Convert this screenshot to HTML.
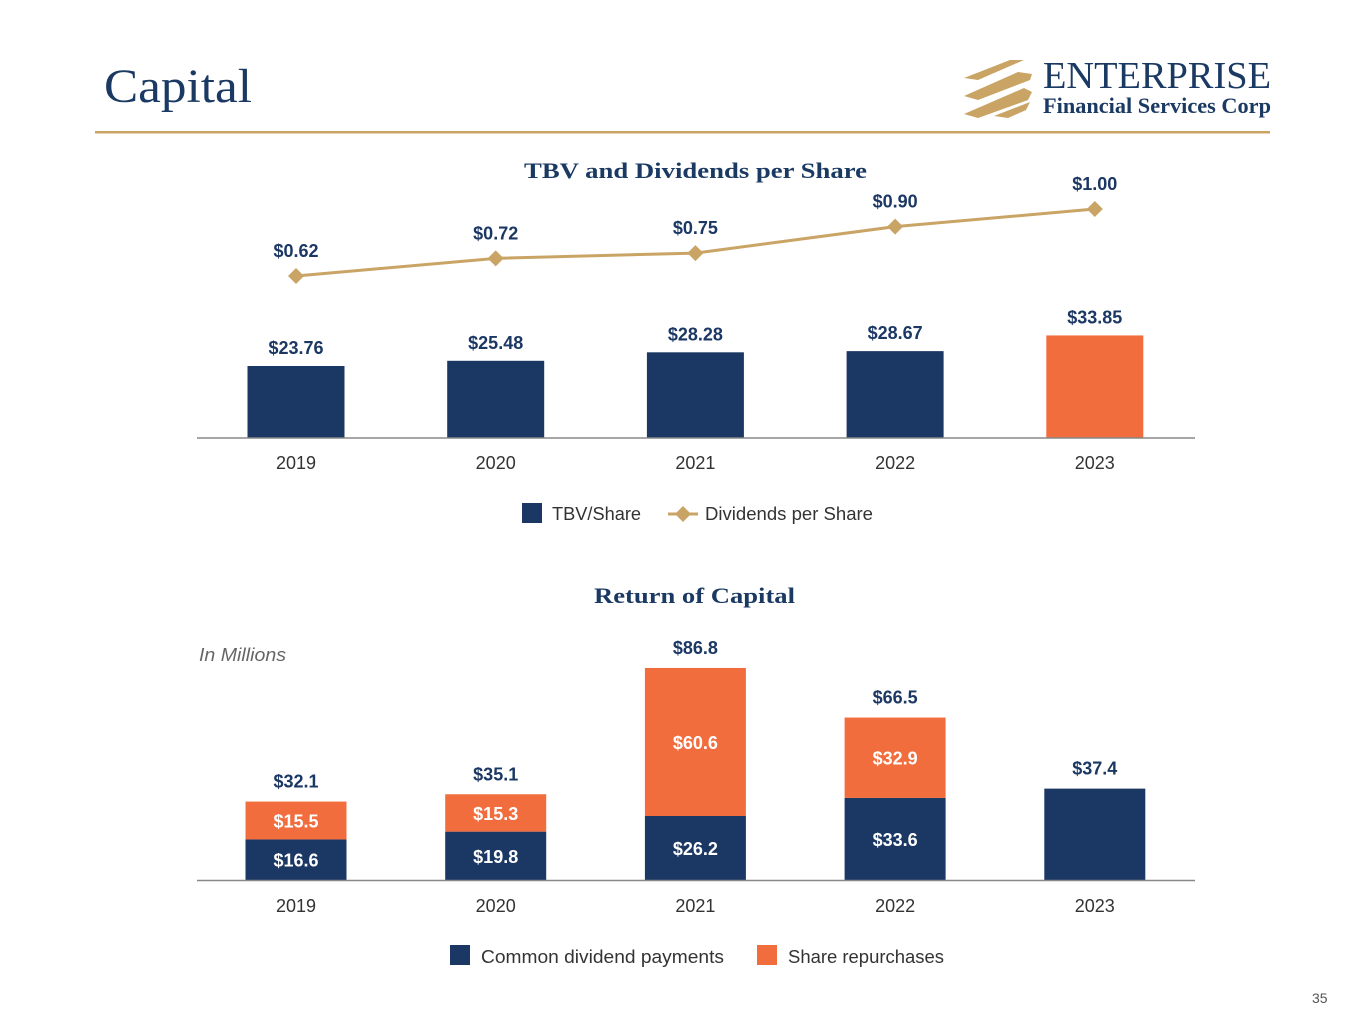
<!DOCTYPE html>
<html><head><meta charset="utf-8"><style>
html,body{margin:0;padding:0;background:#fff;}
svg{display:block;}
text{font-family:"Liberation Sans",sans-serif;}
.serif{font-family:"Liberation Serif",serif;}
.lbl{font-size:18px;font-weight:bold;fill:#1b3763;text-anchor:middle;}
.in{font-size:18px;font-weight:bold;fill:#fff;text-anchor:middle;}
.tick{font-size:18px;fill:#333;text-anchor:middle;}
.leg{font-size:18px;fill:#333;}
</style></head><body>
<svg width="1365" height="1024" viewBox="0 0 1365 1024">
<text x="104" y="102" class="serif" font-size="48" fill="#1b3a63" textLength="148" lengthAdjust="spacingAndGlyphs">Capital</text>
<g>
<polygon points="964,78 1010,60 1024,60 978,80" fill="#c9a465"/>
<polygon points="964,96 1018,72 1032,74 1030,80 978,100" fill="#c9a465"/>
<polygon points="964,114 1024,88 1032,92 1028,100 978,118" fill="#c9a465"/>
<polygon points="994,116 1030,102 1026,110 1008,118" fill="#c9a465"/>
<text x="1043" y="88" class="serif" font-size="38" fill="#1b3a63" textLength="228" lengthAdjust="spacingAndGlyphs">ENTERPRISE</text>
<text x="1043" y="113" class="serif" font-size="22" font-weight="bold" fill="#1b3a63" textLength="228" lengthAdjust="spacingAndGlyphs">Financial Services Corp</text>
</g>
<rect x="95" y="131" width="1175" height="2.5" fill="#c9a465"/>

<text x="524" y="178" class="serif" font-size="22" font-weight="bold" fill="#1b3a63" textLength="343" lengthAdjust="spacingAndGlyphs">TBV and Dividends per Share</text>
<g id="c1"></g>
<rect x="522" y="503" width="20" height="20" fill="#1b3763"/>
<text x="552" y="520" class="leg" textLength="89" lengthAdjust="spacingAndGlyphs">TBV/Share</text>
<g><line x1="668" y1="514" x2="698" y2="514" stroke="#c9a465" stroke-width="3"/><polygon points="683,506 691,514 683,522 675,514" fill="#c9a465"/></g>
<text x="705" y="520" class="leg" textLength="168" lengthAdjust="spacingAndGlyphs">Dividends per Share</text>

<text x="594" y="603" class="serif" font-size="22" font-weight="bold" fill="#1b3a63" textLength="201" lengthAdjust="spacingAndGlyphs">Return of Capital</text>
<text x="199" y="661" font-size="18" font-style="italic" fill="#666" textLength="87" lengthAdjust="spacingAndGlyphs">In Millions</text>
<g id="c2"></g>
<rect x="450" y="945" width="20" height="20" fill="#1b3763"/>
<text x="481" y="963" class="leg" textLength="243" lengthAdjust="spacingAndGlyphs">Common dividend payments</text>
<rect x="757" y="945" width="20" height="20" fill="#f26d3d"/>
<text x="788" y="963" class="leg" textLength="156" lengthAdjust="spacingAndGlyphs">Share repurchases</text>
<text x="1312" y="1003" font-size="14" fill="#555">35</text>
</svg>
<script>
const years = ["2019","2020","2021","2022","2023"];
const tbv = [23.76,25.48,28.28,28.67,33.85];
const dividends = [0.62,0.72,0.75,0.90,1.00];
const divPayments = [16.6,19.8,26.2,33.6,37.4];
const repurchases = [15.5,15.3,60.6,32.9,0];
const totals = [32.1,35.1,86.8,66.5,37.4];

const NS="http://www.w3.org/2000/svg";
function mk(p,t,a,txt){const e=document.createElementNS(NS,t);for(const k in a)e.setAttribute(k,a[k]);if(txt!==undefined)e.textContent=txt;p.appendChild(e);return e;}
const xc=i=>296+i*199.7;
const c1=document.getElementById('c1'), c2=document.getElementById('c2');
const y1=v=>438-v*3.03;
const yl=v=>276-(v-0.62)*176.3;
const y2=v=>880-v*2.443;

tbv.forEach((v,i)=>{
  const r=mk(c1,'rect',{x:xc(i)-48.5,y:y1(v),width:97,height:438-y1(v),fill:i==4?'#f26d3d':'#1b3763'});
  
  
  const t=mk(c1,'text',{x:xc(i),y:y1(v)-12,class:'lbl'},'$'+v.toFixed(2));
  
  
  const yt=mk(c1,'text',{x:xc(i),y:469,class:'tick'},years[i]);
  
  
});
const ax1=mk(c1,'line',{x1:197,y1:438,x2:1195,y2:438,stroke:'#888','stroke-width':1.5});


const pl=mk(c1,'polyline',{points:dividends.map((v,i)=>xc(i)+','+yl(v)).join(' '),fill:'none',stroke:'#c9a465','stroke-width':3});


dividends.forEach((v,i)=>{
  const x=xc(i),y=yl(v);
  const d=mk(c1,'polygon',{points:`${x},${y-8} ${x+8},${y} ${x},${y+8} ${x-8},${y}`,fill:'#c9a465'});
  
  
  const t=mk(c1,'text',{x:x,y:y-19,class:'lbl'},'$'+v.toFixed(2));
  
  
});

years.forEach((yr,i)=>{
  const a=divPayments[i],b=repurchases[i];
  const r=mk(c2,'rect',{x:xc(i)-50.5,y:y2(a),width:101,height:880-y2(a),fill:'#1b3763'});
  
  
  if(b>0){
    const r2=mk(c2,'rect',{x:xc(i)-50.5,y:y2(a+b),width:101,height:y2(a)-y2(a+b),fill:'#f26d3d'});
    
    
    const t1=mk(c2,'text',{x:xc(i),y:(y2(a)+880)/2+7,class:'in'},'$'+a.toFixed(1));
    
    
    const t2=mk(c2,'text',{x:xc(i),y:(y2(a)+y2(a+b))/2+7,class:'in'},'$'+b.toFixed(1));
    
    
  }
  const tt=mk(c2,'text',{x:xc(i),y:y2(totals[i])-14,class:'lbl'},'$'+totals[i].toFixed(1));
  
  
  const yt=mk(c2,'text',{x:xc(i),y:912,class:'tick'},yr);
  
  
});
const ax2=mk(c2,'line',{x1:197,y1:880.5,x2:1195,y2:880.5,stroke:'#888','stroke-width':1.5});


</script>
</body></html>
